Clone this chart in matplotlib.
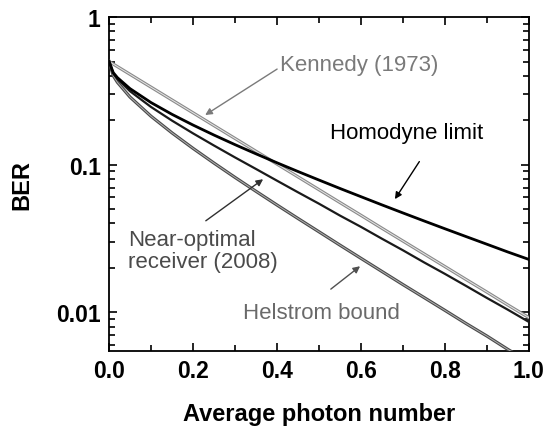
"""
BER versus average photon number for BPSK receivers.
"""

import matplotlib
matplotlib.use("Agg")
import matplotlib.pyplot as plt
import matplotlib.patheffects as pe

# values
photon = [0.0, 0.01, 0.02, 0.05, 0.1, 0.15, 0.2, 0.25, 0.3, 0.35, 0.4,
          0.45, 0.5, 0.55, 0.6, 0.65, 0.7, 0.75, 0.8, 0.85, 0.9, 0.95, 1.0]

helstrom = [0.5, 0.401, 0.3614, 0.2871, 0.2129, 0.1642, 0.1290, 0.1025,
            0.0820, 0.0660, 0.0533, 0.0432, 0.0351, 0.0285, 0.0232,
            0.0189, 0.0154, 0.0126, 0.0103, 0.0084, 0.0069, 0.0056, 0.0046]

kennedy = [0.5, 0.4804, 0.4616, 0.4094, 0.3352, 0.2744, 0.2247, 0.1839,
           0.1506, 0.1233, 0.1010, 0.0827, 0.0677, 0.0554, 0.0454,
           0.0371, 0.0304, 0.0249, 0.0204, 0.0167, 0.0137, 0.0112, 0.0092]

homodyne = [0.5, 0.4207, 0.3887, 0.3274, 0.2635, 0.2193, 0.1856, 0.1587,
            0.1367, 0.1184, 0.1030, 0.0899, 0.0787, 0.0690, 0.0607,
            0.0534, 0.0471, 0.0416, 0.0368, 0.0326, 0.0289, 0.0256, 0.0228]

near_optimal = [0.5, 0.4148, 0.3803, 0.3145, 0.2460, 0.1988, 0.1630, 0.1348,
                0.1120, 0.0935, 0.0779, 0.0650, 0.0544, 0.0452, 0.0379,
                0.0315, 0.0263, 0.0218, 0.0182, 0.0151, 0.0125, 0.0104,
                0.0086]

x_ticks = [0.0, 0.2, 0.4, 0.6, 0.8, 1.0]
x_tick_labels = ["0.0", "0.2", "0.4", "0.6", "0.8", "1.0"]
y_ticks = [0.01, 0.1, 1]
y_tick_labels = ["0.01", "0.1", "1"]

plt.rcParams["font.family"] = ["Liberation Sans", "DejaVu Sans"]

fig = plt.figure(figsize=(5.48, 4.31), dpi=100)
ax = fig.add_axes([0.199, 0.183, 0.766, 0.775])

# grey "double" lines for the two reference bounds
ax.plot(photon, kennedy, color="#e6e6e6", lw=0.7, zorder=3,
        path_effects=[pe.Stroke(linewidth=2.3, foreground="#8a8a8a"),
                      pe.Normal()])
ax.plot(photon, helstrom, color="#b0b0b0", lw=0.7, zorder=3,
        path_effects=[pe.Stroke(linewidth=2.3, foreground="#4a4a4a"),
                      pe.Normal()])
ax.plot(photon, near_optimal, color="#1a1a1a", lw=1.6, zorder=4)
ax.plot(photon, homodyne, color="black", lw=2.0, zorder=4)

ax.set_yscale("log")
ax.set_xlim(0, 1.0)
ax.set_ylim(0.00545, 1)

ax.set_xticks(x_ticks)
ax.set_xticklabels(x_tick_labels, fontsize=16.5, fontweight="bold")
ax.set_xticks([0.1, 0.3, 0.5, 0.7, 0.9], minor=True)
ax.set_yticks(y_ticks)
ax.set_yticklabels(y_tick_labels, fontsize=16.5, fontweight="bold")
ax.yaxis.set_minor_formatter(matplotlib.ticker.NullFormatter())
ax.tick_params(which="both", direction="in", top=True, right=True,
               width=1.2, colors="black")
ax.tick_params(which="major", length=6, pad=6)
ax.tick_params(which="minor", length=4)
for s in ax.spines.values():
    s.set_linewidth(1.3)

ax.set_xlabel("Average photon number", fontsize=17, fontweight="bold",
              labelpad=14)
ax.set_ylabel("BER", fontsize=17, fontweight="bold", labelpad=16)

arrow = dict(arrowstyle="-|>", lw=1.0, mutation_scale=10,
             shrinkA=0, shrinkB=0)

ax.annotate("Kennedy (1973)", xy=(0.229, 0.217), xytext=(0.407, 0.48),
            fontsize=16, color="#7a7a7a", ha="left", va="center",
            arrowprops=dict(arrow, color="#7a7a7a",
                            relpos=(0.0, 0.35)))
ax.annotate("Homodyne limit", xy=(0.681, 0.0584), xytext=(0.71, 0.166),
            fontsize=16, color="black", ha="center", va="center",
            arrowprops=dict(arrow, color="black", relpos=(0.58, -0.9)))
ax.annotate("Near-optimal\nreceiver (2008)", xy=(0.367, 0.0797),
            xytext=(0.045, 0.0261), fontsize=16, color="#4a4a4a",
            ha="left", va="center", linespacing=1.05,
            arrowprops=dict(arrow, color="#303030", relpos=(0.52, 1.2)))
ax.annotate("Helstrom bound", xy=(0.598, 0.0205), xytext=(0.319, 0.01),
            fontsize=16, color="#6a6a6a", ha="left", va="center",
            arrowprops=dict(arrow, color="#505050", relpos=(0.56, 1.6)))

fig.savefig("out.png", dpi=100)
